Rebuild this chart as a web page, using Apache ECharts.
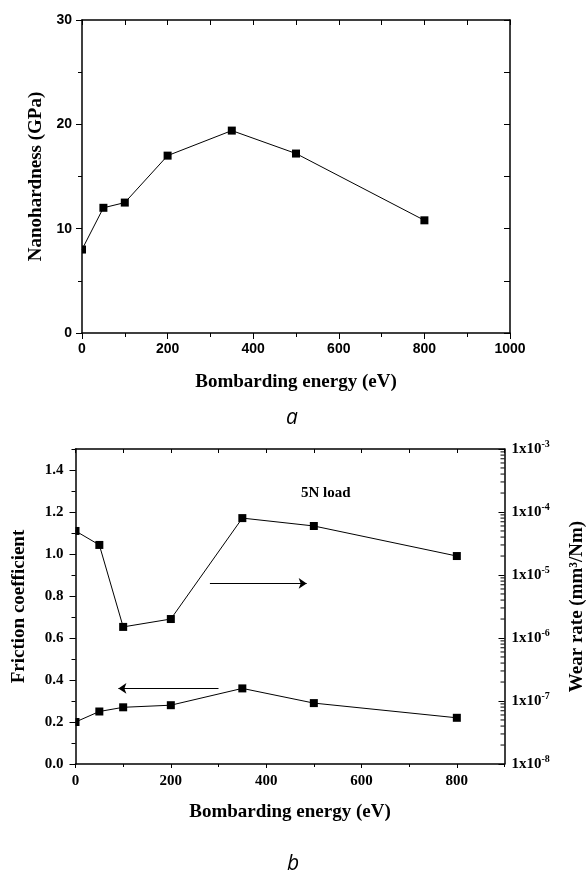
<!DOCTYPE html>
<html>
<head>
<meta charset="utf-8">
<script src="https://cdn.jsdelivr.net/npm/echarts@6/dist/echarts.min.js"></script>
<style>
  html, body { margin: 0; padding: 0; background: #fff; }
  #chart { width: 586px; height: 883px; }
</style>
</head>
<body>
<div id="chart"></div>
<script>
// (a) nanohardness vs. bombarding energy
const energyA = [0, 50, 100, 200, 350, 500, 800];
const hardness = [8.0, 12.0, 12.5, 17.0, 19.4, 17.2, 10.8];

// (b) friction coefficient and wear rate vs. bombarding energy
const energyB = [0, 50, 100, 200, 350, 500, 800];
const friction = [0.20, 0.25, 0.27, 0.28, 0.36, 0.29, 0.22];
const wearRate = [5.0e-5, 3.0e-5, 1.5e-6, 2.0e-6, 8.0e-5, 6.0e-5, 2.0e-5];

// decades and mantissas for the log-axis minor ticks
const logDecades = [-8, -7, -6, -5, -4];
const logMantissas = [2, 3, 4, 5, 6, 7, 8, 9];

const BLACK = '#000';
const SANS = 'Liberation Sans';
const SERIF = 'Liberation Serif';

const pairs = (xs, ys) => xs.map((x, i) => [x, ys[i]]);
const minorLogTicks = [];
logDecades.forEach(e => logMantissas.forEach(m => minorLogTicks.push([900, m * Math.pow(10, e)])));

const axisLine = { show: true, onZero: false, lineStyle: { color: BLACK, width: 1.5 } };
const noSplit = { show: false };
const nameStyleSerif = { color: BLACK, fontFamily: SERIF, fontWeight: 'bold', fontSize: 19 };

// square markers, cut off at the plot frame
function squareSeries(name, xIdx, yIdx, data) {
  return {
    name: name,
    type: 'custom',
    coordinateSystem: 'cartesian2d',
    xAxisIndex: xIdx,
    yAxisIndex: yIdx,
    z: 5,
    data: data,
    renderItem: function (params, api) {
      const p = api.coord([api.value(0), api.value(1)]);
      const cs = params.coordSys;
      const half = 4;
      const x0 = Math.max(p[0] - half, cs.x);
      const x1 = Math.min(p[0] + half, cs.x + cs.width);
      const y0 = Math.max(p[1] - half, cs.y);
      const y1 = Math.min(p[1] + half, cs.y + cs.height);
      return {
        type: 'rect',
        shape: { x: x0, y: y0, width: Math.max(0, x1 - x0), height: Math.max(0, y1 - y0) },
        style: { fill: BLACK }
      };
    }
  };
}

function lineSeries(name, xIdx, yIdx, data, extra) {
  return Object.assign({
    name: name,
    type: 'line',
    xAxisIndex: xIdx,
    yAxisIndex: yIdx,
    data: data,
    symbol: 'none',
    animation: false,
    lineStyle: { color: BLACK, width: 1 },
    z: 3
  }, extra || {});
}

const chart = echarts.init(document.getElementById('chart'), null, { renderer: 'canvas' });

const option = {
  backgroundColor: '#fff',
  animation: false,
  grid: [
    { left: 82, top: 20, width: 428, height: 313, containLabel: false, outerBoundsMode: 'none' },
    { left: 75.5, top: 449, width: 429, height: 315, containLabel: false, outerBoundsMode: 'none' }
  ],
  xAxis: [
    // (a) bottom
    {
      gridIndex: 0, type: 'value', position: 'bottom', min: 0, max: 1000, interval: 200,
      axisLine: axisLine, splitLine: noSplit,
      axisTick: { show: true, inside: false, length: 6, lineStyle: { color: BLACK, width: 1 } },
      minorTick: { show: true, splitNumber: 2, length: 4, lineStyle: { color: BLACK, width: 1 } },
      axisLabel: { color: BLACK, fontFamily: SANS, fontWeight: 'bold', fontSize: 14, margin: 9, formatter: v => String(v) },
      name: 'Bombarding energy (eV)', nameLocation: 'middle', nameGap: 40, nameTextStyle: nameStyleSerif
    },
    // (a) top frame
    {
      gridIndex: 0, type: 'value', position: 'top', min: 0, max: 1000, interval: 100,
      axisLine: axisLine, splitLine: noSplit,
      axisTick: { show: true, inside: true, length: 5, lineStyle: { color: BLACK, width: 1 } },
      axisLabel: { show: false }
    },
    // (b) bottom, labelled every 200
    {
      gridIndex: 1, type: 'value', position: 'bottom', min: 0, max: 900, interval: 200,
      axisLine: axisLine, splitLine: noSplit,
      axisTick: { show: true, inside: false, length: 4, lineStyle: { color: BLACK, width: 1 } },
      axisLabel: { color: BLACK, fontFamily: SERIF, fontWeight: 'bold', fontSize: 15, margin: 10, showMaxLabel: false, formatter: v => String(v) },
      name: 'Bombarding energy (eV)', nameLocation: 'middle', nameGap: 39, nameTextStyle: nameStyleSerif
    },
    // (b) bottom, 100-step ticks
    {
      gridIndex: 1, type: 'value', position: 'bottom', min: 0, max: 900, interval: 100,
      axisLine: { show: false }, splitLine: noSplit,
      axisTick: { show: true, inside: false, length: 3, lineStyle: { color: BLACK, width: 1 } },
      axisLabel: { show: false }
    },
    // (b) top frame
    {
      gridIndex: 1, type: 'value', position: 'top', min: 0, max: 900, interval: 100,
      axisLine: axisLine, splitLine: noSplit,
      axisTick: { show: true, inside: true, length: 4, lineStyle: { color: BLACK, width: 1 } },
      axisLabel: { show: false }
    }
  ],
  yAxis: [
    // (a) left
    {
      gridIndex: 0, type: 'value', position: 'left', min: 0, max: 30, interval: 10,
      axisLine: axisLine, splitLine: noSplit,
      axisTick: { show: true, inside: false, length: 6, lineStyle: { color: BLACK, width: 1 } },
      minorTick: { show: true, splitNumber: 2, length: 4, lineStyle: { color: BLACK, width: 1 } },
      axisLabel: { color: BLACK, fontFamily: SANS, fontWeight: 'bold', fontSize: 14, margin: 10 },
      name: 'Nanohardness (GPa)', nameLocation: 'middle', nameRotate: 90, nameGap: 32, nameTextStyle: nameStyleSerif
    },
    // (a) right frame
    {
      gridIndex: 0, type: 'value', position: 'right', min: 0, max: 30, interval: 5,
      axisLine: axisLine, splitLine: noSplit,
      axisTick: { show: true, inside: true, length: 6, lineStyle: { color: BLACK, width: 1 } },
      axisLabel: { show: false }
    },
    // (b) left: friction coefficient
    {
      gridIndex: 1, type: 'value', position: 'left', min: 0, max: 1.5, interval: 0.2,
      axisLine: axisLine, splitLine: noSplit,
      axisTick: { show: true, inside: false, length: 6, lineStyle: { color: BLACK, width: 1 } },
      axisLabel: {
        color: BLACK, fontFamily: SERIF, fontWeight: 'bold', fontSize: 15, margin: 12, showMaxLabel: false,
        formatter: v => v.toFixed(1)
      },
      name: 'Friction coefficient', nameLocation: 'middle', nameRotate: 90, nameGap: 47, nameTextStyle: nameStyleSerif
    },
    // (b) left: 0.1-step ticks
    {
      gridIndex: 1, type: 'value', position: 'left', min: 0, max: 1.5, interval: 0.1,
      axisLine: { show: false }, splitLine: noSplit,
      axisTick: { show: true, inside: false, length: 4, lineStyle: { color: BLACK, width: 1 } },
      axisLabel: { show: false }
    },
    // (b) right: wear rate (log)
    {
      gridIndex: 1, type: 'log', logBase: 10, position: 'right', min: 1e-8, max: 1e-3,
      axisLine: axisLine, splitLine: noSplit,
      axisTick: { show: true, inside: true, length: 6, lineStyle: { color: BLACK, width: 1 } },
      axisLabel: {
        color: BLACK, fontFamily: SERIF, fontWeight: 'bold', fontSize: 15, margin: 7,
        formatter: v => '{b|1x10}{s|' + Math.round(Math.log10(v)) + '}',
        rich: {
          b: { color: BLACK, fontFamily: SERIF, fontWeight: 'bold', fontSize: 15, lineHeight: 20 },
          s: { color: BLACK, fontFamily: SERIF, fontWeight: 'bold', fontSize: 10, lineHeight: 20, verticalAlign: 'top' }
        }
      },
      name: 'Wear rate (mm³/Nm)', nameLocation: 'middle', nameRotate: 90, nameGap: 63, nameTextStyle: nameStyleSerif
    }
  ],
  series: [
    lineSeries('Nanohardness', 0, 0, pairs(energyA, hardness)),
    squareSeries('Nanohardness markers', 0, 0, pairs(energyA, hardness)),

    lineSeries('Friction coefficient', 2, 2, pairs(energyB, friction), {
      markLine: {
        silent: true,
        symbol: ['none', 'arrow'],
        symbolSize: 8,
        label: { show: false },
        lineStyle: { color: BLACK, width: 1, type: 'solid' },
        data: [
          [{ coord: [300, 0.36] }, { coord: [90, 0.36] }],
          [{ coord: [282, 0.86] }, { coord: [485, 0.86] }]
        ]
      }
    }),
    squareSeries('Friction markers', 2, 2, pairs(energyB, friction)),

    lineSeries('Wear rate', 2, 4, pairs(energyB, wearRate)),
    squareSeries('Wear rate markers', 2, 4, pairs(energyB, wearRate)),

    // minor ticks of the log axis, at 2..9 x 10^n
    {
      name: 'log minor ticks',
      type: 'custom',
      coordinateSystem: 'cartesian2d',
      xAxisIndex: 2,
      yAxisIndex: 4,
      silent: true,
      z: 6,
      data: minorLogTicks,
      renderItem: function (params, api) {
        const p = api.coord([api.value(0), api.value(1)]);
        return {
          type: 'line',
          shape: { x1: p[0] - 4, y1: p[1], x2: p[0], y2: p[1] },
          style: { stroke: BLACK, lineWidth: 1 }
        };
      }
    }
  ],
  graphic: [
    {
      type: 'text', left: 301, top: 486,
      style: { text: '5N load', fill: BLACK, font: 'bold 15px "Liberation Serif"' }
    },
    {
      type: 'text', x: 292, y: 418,
      style: { text: 'a', fill: BLACK, font: 'italic 21px "Open Sans"', textAlign: 'center', textVerticalAlign: 'middle' }
    },
    {
      type: 'text', x: 293, y: 864,
      style: { text: 'b', fill: BLACK, font: 'italic 21px "Open Sans"', textAlign: 'center', textVerticalAlign: 'middle' }
    }
  ]
};

chart.setOption(option);
</script>
</body>
</html>
